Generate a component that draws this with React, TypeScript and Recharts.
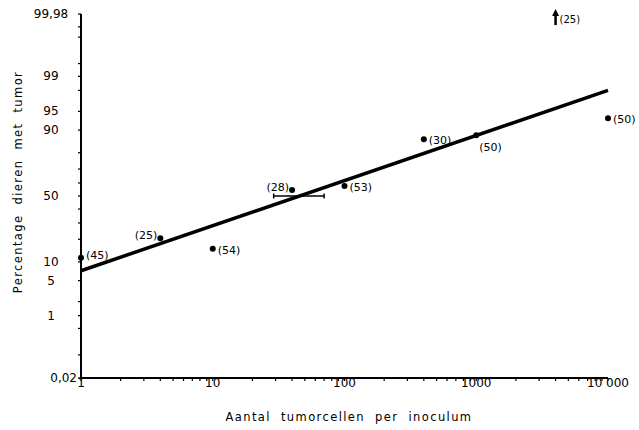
import React from "react";
import { ScatterChart, Scatter, XAxis, YAxis } from "recharts";

// Dose-response on a probit paper: % animals with tumour vs cells per inoculum

const doses = [1, 4, 10, 40, 100, 400, 1000, 10000];
const percents = [11.5, 20.5, 15.2, 54.6, 57.7, 86.5, 88.1, 93.5];
const animals = [45, 25, 54, 28, 53, 30, 50, 50];
const labelSide = ["right", "left", "right", "left", "right", "right", "below", "right"];

const fitDoses = [1, 10000];
const fitPercents = [7.3, 98];

const ed50Doses = [29, 70];
const ed50Percent = 50;

const arrowDose = 4000;
const arrowAnimals = 25;

const majorPercents = [0.02, 1, 5, 10, 50, 90, 95, 99, 99.98];
const majorLabels = ["0,02", "1", "5", "10", "50", "90", "95", "99", "99,98"];
const minorPercents = [0.1, 0.5, 2, 20, 30, 40, 60, 70, 80, 98, 99.5, 99.9, 99.95];

const decadeTicks = [1, 10, 100, 1000, 10000];
const decadeLabels = ["1", "10", "100", "1000", "10 000"];

const FONT = "'DejaVu Sans', sans-serif";

// inverse normal cdf (Acklam), maps a percentage onto the probit axis
function probit(pct: number): number {
  const p = pct / 100;
  const a = [-39.69683028665376, 220.9460984245205, -275.9285104469687, 138.357751867269, -30.66479806614716, 2.506628277459239];
  const b = [-54.47609879822406, 161.5858368580409, -155.6989798598866, 66.80131188771972, -13.28068155288572];
  const c = [-0.007784894002430293, -0.3223964580411365, -2.400758277161838, -2.549732539343734, 4.374664141464968, 2.938163982698783];
  const d = [0.007784695709041462, 0.3224671290700398, 2.445134137142996, 3.754408661907416];
  const pl = 0.02425;
  if (p < pl) {
    const q = Math.sqrt(-2 * Math.log(p));
    return (((((c[0] * q + c[1]) * q + c[2]) * q + c[3]) * q + c[4]) * q + c[5]) / ((((d[0] * q + d[1]) * q + d[2]) * q + d[3]) * q + 1);
  }
  if (p > 1 - pl) {
    const q = Math.sqrt(-2 * Math.log(1 - p));
    return -(((((c[0] * q + c[1]) * q + c[2]) * q + c[3]) * q + c[4]) * q + c[5]) / ((((d[0] * q + d[1]) * q + d[2]) * q + d[3]) * q + 1);
  }
  const q = p - 0.5;
  const r = q * q;
  return ((((((a[0] * r + a[1]) * r + a[2]) * r + a[3]) * r + a[4]) * r + a[5]) * q) / (((((b[0] * r + b[1]) * r + b[2]) * r + b[3]) * r + b[4]) * r + 1);
}

const zMax = probit(99.98);
const zMin = probit(0.02);

const points = doses.map((dose, i) => ({
  dose,
  z: probit(percents[i]),
  n: animals[i],
  side: labelSide[i],
}));
const fitLine = fitDoses.map((dose, i) => ({ dose, z: probit(fitPercents[i]) }));
const ed50Bar = ed50Doses.map((dose) => ({ dose, z: probit(ed50Percent) }));
const arrowData = [{ dose: arrowDose, z: zMax - 0.06, n: arrowAnimals }];

const xTicks: number[] = [];
decadeTicks.forEach((dec) => {
  for (let k = 1; k <= 9; k++) {
    if (dec * k <= 10000) xTicks.push(dec * k);
  }
});
const yTicks = [...majorPercents, ...minorPercents].map(probit);

const XTick = (props: any) => {
  const { x, y, payload } = props;
  const i = decadeTicks.indexOf(payload.value);
  if (i < 0) return null;
  return (
    <text x={x} y={y + 4} textAnchor="middle" fontSize={12} fontFamily={FONT} fill="#000">
      {decadeLabels[i]}
    </text>
  );
};

const YTick = (props: any) => {
  const { y, payload } = props;
  const i = majorPercents.findIndex((p) => Math.abs(probit(p) - payload.value) < 1e-6);
  if (i < 0) return null;
  const label = majorLabels[i];
  const isLow = label === "0,02";
  return (
    <text
      x={isLow ? 77 : 51}
      y={y}
      dy={4}
      textAnchor={isLow ? "end" : "middle"}
      fontSize={12}
      fontFamily={FONT}
      fill="#000"
    >
      {label}
    </text>
  );
};

const PointShape = (props: any) => {
  const { cx, cy, payload } = props;
  const txt = `(${payload.n})`;
  let tx = cx + 5;
  let ty = cy + 1;
  let anchor = "start";
  if (payload.side === "left") {
    tx = cx - 3;
    ty = cy - 3;
    anchor = "end";
  } else if (payload.side === "below") {
    tx = cx + 3;
    ty = cy + 12;
  } else if (cx < 100) {
    ty = cy - 3;
  }
  return (
    <g>
      <circle cx={cx} cy={cy} r={3} fill="#000" />
      <text x={tx} y={ty} dy={4} textAnchor={anchor} fontSize={11} fontFamily={FONT} fill="#000">
        {txt}
      </text>
    </g>
  );
};

const CapShape = (props: any) => {
  const { cx, cy } = props;
  return <line x1={cx} x2={cx} y1={cy - 2.5} y2={cy + 2.5} stroke="#000" strokeWidth={1.5} />;
};

const ArrowShape = (props: any) => {
  const { cx, cy, payload } = props;
  return (
    <g>
      <line x1={cx} x2={cx} y1={cy + 8} y2={cy - 3} stroke="#000" strokeWidth={2.5} />
      <path d={`M${cx - 3.5},${cy - 1} L${cx},${cy - 8} L${cx + 3.5},${cy - 1} Z`} fill="#000" />
      <text x={cx + 4} y={cy + 6} fontSize={10} fontFamily={FONT} fill="#000">
        {`(${payload.n})`}
      </text>
    </g>
  );
};

const NoShape = () => <g />;

const App = () => {
  return (
    <div style={{ position: "absolute", left: 0, top: 0, background: "#fff" }}>
      <ScatterChart width={639} height={430} margin={{ top: 14, right: 31, left: 0, bottom: 0 }}>
        <XAxis
          type="number"
          dataKey="dose"
          scale="log"
          domain={[1, 10000]}
          ticks={xTicks}
          interval={0}
          height={52}
          tick={<XTick />}
          tickSize={3}
          axisLine={{ stroke: "#000", strokeWidth: 2 }}
          tickLine={{ stroke: "#000", strokeWidth: 1.2 }}
          label={{
            content: () => (
              <text x={349} y={421} textAnchor="middle" fontSize={11.5} fontFamily={FONT} letterSpacing={1.4} wordSpacing={5} fill="#000">
                Aantal tumorcellen per inoculum
              </text>
            ),
          }}
        />
        <YAxis
          type="number"
          dataKey="z"
          domain={[zMin, zMax]}
          ticks={yTicks}
          interval={0}
          width={81}
          tick={<YTick />}
          tickSize={3}
          axisLine={{ stroke: "#000", strokeWidth: 2 }}
          tickLine={{ stroke: "#000", strokeWidth: 1.2 }}
          label={{
            content: () => (
              <text
                x={18}
                y={182}
                transform="rotate(-90 18 182)"
                textAnchor="middle"
                dy={4}
                fontSize={11.5}
                fontFamily={FONT}
                letterSpacing={1.4}
                wordSpacing={5}
                fill="#000"
              >
                Percentage dieren met tumor
              </text>
            ),
          }}
        />
        <Scatter
          data={fitLine}
          line={{ stroke: "#000", strokeWidth: 3.5 }}
          shape={<NoShape />}
          isAnimationActive={false}
        />
        <Scatter
          data={ed50Bar}
          line={{ stroke: "#000", strokeWidth: 1.5 }}
          shape={<CapShape />}
          isAnimationActive={false}
        />
        <Scatter data={points} shape={<PointShape />} isAnimationActive={false} />
        <Scatter data={arrowData} shape={<ArrowShape />} isAnimationActive={false} />
      </ScatterChart>
    </div>
  );
};

export default App;
